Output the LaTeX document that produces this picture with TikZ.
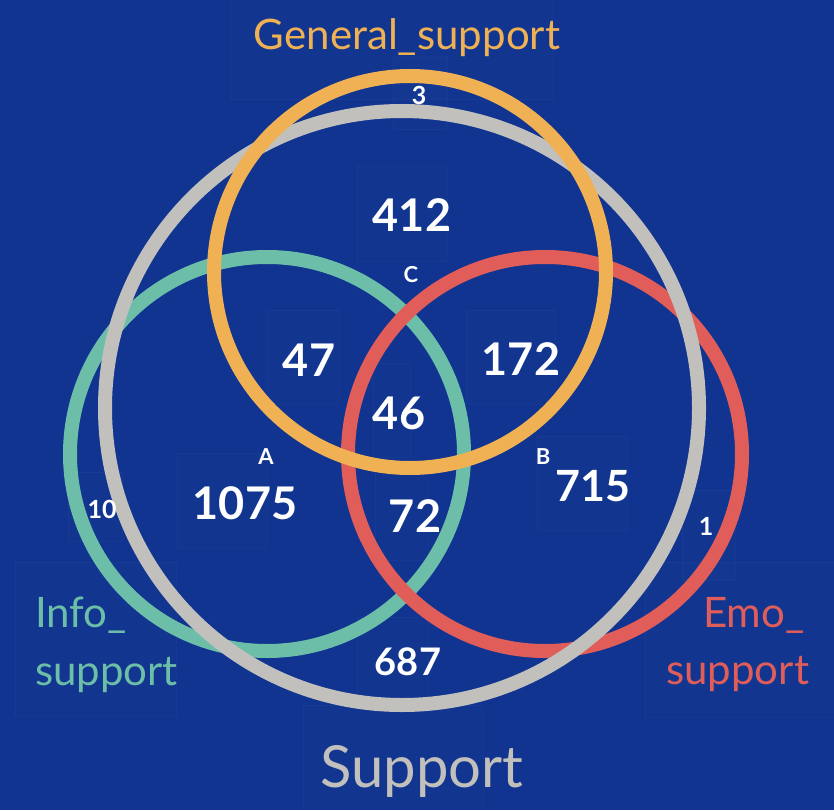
\documentclass[tikz,border=0pt]{standalone}
\usepackage{fontspec}
\setmainfont{Lato}
\definecolor{bgblue}{RGB}{16,52,143}
\definecolor{vorange}{RGB}{239,177,83}
\definecolor{vteal}{RGB}{109,190,169}
\definecolor{vred}{RGB}{224,93,89}
\definecolor{vgrey}{RGB}{194,192,189}
\tikzset{
  ring/.style={line width=14pt},
  lbl/.style={anchor=base, inner sep=0pt, outer sep=0pt},
  bignum/.style={lbl, text=white, font=\bfseries\fontsize{45}{54}\selectfont},
  smallnum/.style={lbl, text=white, font=\bfseries\fontsize{25}{30}\selectfont},
  letter/.style={lbl, text=white, font=\bfseries\fontsize{22}{26}\selectfont},
  setname/.style={lbl, font=\fontsize{42}{50}\selectfont},
  faint/.style={fill=white, fill opacity=0.012, draw=white, draw opacity=0.025, line width=1pt}
}
\begin{document}
\begin{tikzpicture}[x=1pt,y=-1pt]
\fill[bgblue] (0,0) rectangle (834,810);
\useasboundingbox (0,0) rectangle (834,810);
% faint text boxes
\foreach \xa/\ya/\xb/\yb in {230/0/553/100, 393/57/447/130, 357/165/447/261,
  267/310/339/404, 466/310/555/404, 373/363/410/457, 375/470/428/560,
  177/453/267/548, 537/436/627/530, 68/472/122/541, 682/490/735/580,
  15/562/176/716, 645/562/834/717, 357/617/428/705, 303/705/483/810}
  \filldraw[faint] (\xa,\ya) rectangle (\xb,\yb);
% circles
\coordinate (cInfo) at (267,454);
\coordinate (cEmo) at (545,454);
\coordinate (cSup) at (402,408);
\coordinate (cGen) at (410,272);
\draw[ring, vteal] (cInfo) circle[radius=197];
\draw[ring, vred] (cEmo) circle[radius=197];
\draw[ring, vgrey] (cSup) circle[radius=297];
\draw[ring, vorange] (cGen) circle[radius=196];
% set names
\node[setname, text=vorange] (tGen) at (407,50) {General\_support};
\node[setname, text=vteal, anchor=base west] (tInfo1) at (35,627) {Info\_};
\node[setname, text=vteal, anchor=base west] (tInfo2) at (35,685) {support};
\node[setname, text=vred, anchor=base west] (tEmo1) at (703,627) {Emo\_};
\node[setname, text=vred, anchor=base east] (tEmo2) at (809,684) {support};
\node[lbl, text=vgrey, font=\fontsize{58}{66}\selectfont] (tSup) at (422,787) {Support};
% counts
\node[smallnum] (n3) at (419,105) {3};
\node[bignum] (n412) at (412,232) {412};
\node[letter] (lC) at (411,282) {C};
\node[bignum] (n47) at (309,376) {47};
\node[bignum] (n172) at (521,375) {172};
\node[bignum] (n46) at (399,429) {46};
\node[letter] (lA) at (266,464) {A};
\node[bignum] (n1075) at (245,519) {1075};
\node[letter] (lB) at (543,464) {B};
\node[bignum, font=\bfseries\fontsize{43}{52}\selectfont] (n715) at (593,501) {715};
\node[bignum] (n72) at (415,532) {72};
\node[smallnum] (n10) at (102,518) {10};
\node[smallnum] (n1) at (706,535) {1};
\node[bignum, font=\bfseries\fontsize{38}{46}\selectfont] (n687) at (408,675) {687};
\end{tikzpicture}
\end{document}
